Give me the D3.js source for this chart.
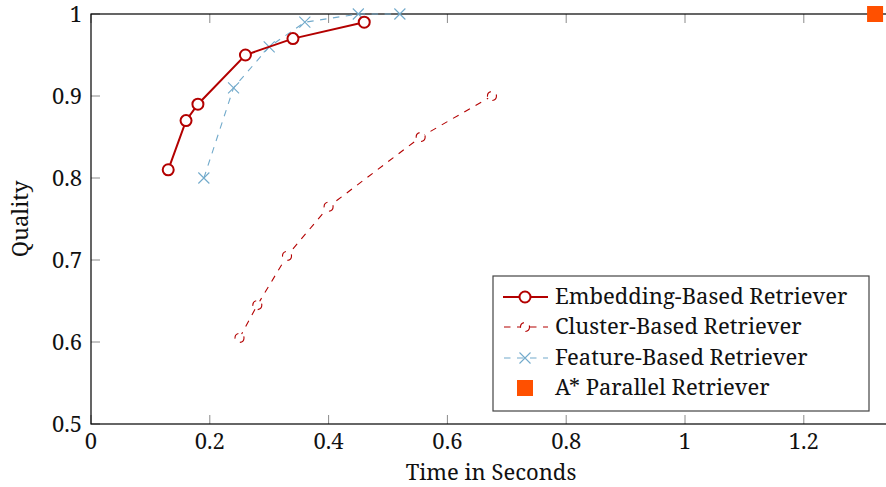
<!DOCTYPE html>
<html>
<head>
<meta charset="utf-8">
<script src="https://cdn.jsdelivr.net/npm/d3@7"></script>
<style>
  body { margin: 0; background: #fff; }
</style>
</head>
<body>
<div id="root"></div>
<script>
// data
const embedTime = [0.13, 0.16, 0.18, 0.26, 0.34, 0.46];
const embedQuality = [0.81, 0.87, 0.89, 0.95, 0.97, 0.99];

const clusterTime = [0.25, 0.28, 0.33, 0.40, 0.555, 0.675];
const clusterQuality = [0.605, 0.645, 0.705, 0.765, 0.85, 0.90];

const featureTime = [0.19, 0.24, 0.30, 0.36, 0.45, 0.52];
const featureQuality = [0.80, 0.91, 0.96, 0.99, 1.0, 1.0];

const astarTime = [1.32];
const astarQuality = [1.0];

const xTicks = [0, 0.2, 0.4, 0.6, 0.8, 1, 1.2];
const yTicks = [0.5, 0.6, 0.7, 0.8, 0.9, 1];

const seriesNames = ["Embedding-Based Retriever", "Cluster-Based Retriever", "Feature-Based Retriever", "A* Parallel Retriever"];

const width = 886;
const height = 487;

const red = "#b30000";
const blue = "#72aacb";
const orange = "#ff5000";
const font = "'Noto Serif', serif";
const fs = 22;

var svg = d3.select("#root").append("svg")
  .attr("width", width)
  .attr("height", height)
  .attr("font-family", font);

var x = d3.scaleLinear().domain([0, 1]).range([91, 685]);
var y = d3.scaleLinear().domain([0.5, 1]).range([424, 14]);

const xMax = 1.34; // right edge is cut off in the picture

var zip = (a, b) => a.map((v, i) => [v, b[i]]);

// ticks (inward, grey)
var tickLen = 9;
var ticks = svg.append("g").attr("stroke", "#8a8a8a").attr("stroke-width", 1);
xTicks.forEach(t => {
  ticks.append("line").attr("x1", x(t)).attr("x2", x(t)).attr("y1", y(0.5)).attr("y2", y(0.5) - tickLen);
  ticks.append("line").attr("x1", x(t)).attr("x2", x(t)).attr("y1", y(1)).attr("y2", y(1) + tickLen);
});
yTicks.forEach(t => {
  ticks.append("line").attr("x1", x(0)).attr("x2", x(0) + tickLen).attr("y1", y(t)).attr("y2", y(t));
});

// frame
svg.append("rect")
  .attr("x", x(0)).attr("y", y(1))
  .attr("width", x(xMax) - x(0)).attr("height", y(0.5) - y(1))
  .attr("fill", "none").attr("stroke", "#000").attr("stroke-width", 1.2);

// tick labels
svg.append("g").selectAll("text").data(xTicks).enter().append("text")
  .attr("x", d => x(d)).attr("y", 449)
  .attr("text-anchor", "middle").attr("font-size", fs).attr("fill", "#111")
  .text(d => d3.format("")(d));

svg.append("g").selectAll("text").data(yTicks).enter().append("text")
  .attr("x", 82).attr("y", d => y(d) + 8)
  .attr("text-anchor", "end").attr("font-size", fs).attr("fill", "#111")
  .text(d => d3.format("")(d));

// axis titles
svg.append("text")
  .attr("x", 491).attr("y", 480)
  .attr("text-anchor", "middle").attr("font-size", fs).attr("fill", "#111")
  .text("Time in Seconds");

svg.append("text")
  .attr("transform", "translate(28,219) rotate(-90)")
  .attr("text-anchor", "middle").attr("font-size", fs).attr("fill", "#111")
  .text("Quality");

var line = d3.line().x(d => x(d[0])).y(d => y(d[1]));

// cluster-based
var cluster = zip(clusterTime, clusterQuality);
svg.append("path").datum(cluster)
  .attr("d", line).attr("fill", "none")
  .attr("stroke", red).attr("stroke-width", 1.1).attr("stroke-dasharray", "6.5,6.5");
svg.append("g").selectAll("circle").data(cluster).enter().append("circle")
  .attr("cx", d => x(d[0])).attr("cy", d => y(d[1])).attr("r", 4.5)
  .attr("fill", "#fff").attr("stroke", red).attr("stroke-width", 1.1)
  .attr("stroke-dasharray", "6.5,6.5");

// feature-based
var feature = zip(featureTime, featureQuality);
svg.append("path").datum(feature)
  .attr("d", line).attr("fill", "none")
  .attr("stroke", blue).attr("stroke-width", 1.1).attr("stroke-dasharray", "6.5,6.5");
function cross(g, cx, cy, r, color) {
  g.append("path")
    .attr("d", `M${cx - r},${cy - r}L${cx + r},${cy + r}M${cx - r},${cy + r}L${cx + r},${cy - r}`)
    .attr("stroke", color).attr("stroke-width", 1.1).attr("fill", "none");
}
var featG = svg.append("g");
feature.forEach(d => cross(featG, x(d[0]), y(d[1]), 5.5, blue));

// embedding-based
var embed = zip(embedTime, embedQuality);
svg.append("path").datum(embed)
  .attr("d", line).attr("fill", "none")
  .attr("stroke", red).attr("stroke-width", 2);
svg.append("g").selectAll("circle").data(embed).enter().append("circle")
  .attr("cx", d => x(d[0])).attr("cy", d => y(d[1])).attr("r", 5.5)
  .attr("fill", "#fff").attr("stroke", red).attr("stroke-width", 2);

// A* parallel
svg.append("g").selectAll("rect").data(zip(astarTime, astarQuality)).enter().append("rect")
  .attr("x", d => x(d[0]) - 8).attr("y", d => y(d[1]) - 8)
  .attr("width", 16).attr("height", 16).attr("fill", orange);

// legend
var legend = svg.append("g").attr("transform", "translate(493,276)");
legend.append("rect")
  .attr("width", 376).attr("height", 135)
  .attr("fill", "#fff").attr("stroke", "#444").attr("stroke-width", 1.2);

var rowY = [21, 51, 82, 112];
var entries = legend.selectAll("g.entry").data(seriesNames).enter().append("g")
  .attr("class", "entry")
  .attr("transform", (d, i) => `translate(0,${rowY[i]})`);

entries.append("text")
  .attr("x", 62).attr("y", 7)
  .attr("font-size", fs).attr("fill", "#111")
  .text(d => d);

// sample 0: solid line + circle
var e0 = d3.select(entries.nodes()[0]);
e0.append("line").attr("x1", 10).attr("x2", 55).attr("stroke", red).attr("stroke-width", 2);
e0.append("circle").attr("cx", 32).attr("r", 5.5).attr("fill", "#fff").attr("stroke", red).attr("stroke-width", 2);

// sample 1: dashed + dashed circle
var e1 = d3.select(entries.nodes()[1]);
e1.append("line").attr("x1", 10).attr("x2", 55).attr("stroke", red).attr("stroke-width", 1.1)
  .attr("stroke-dasharray", "6.5,6.5").attr("stroke-dashoffset", -1);
e1.append("circle").attr("cx", 32).attr("r", 4.5).attr("fill", "#fff").attr("stroke", red).attr("stroke-width", 1.1)
  .attr("stroke-dasharray", "6.5,6.5");

// sample 2: dashed + cross
var e2 = d3.select(entries.nodes()[2]);
e2.append("line").attr("x1", 10).attr("x2", 55).attr("stroke", blue).attr("stroke-width", 1.1)
  .attr("stroke-dasharray", "6.5,6.5").attr("stroke-dashoffset", -1);
cross(e2, 32, 0, 5.5, blue);

// sample 3: square
var e3 = d3.select(entries.nodes()[3]);
e3.append("rect").attr("x", 24).attr("y", -8).attr("width", 16).attr("height", 16).attr("fill", orange);
</script>
</body>
</html>
